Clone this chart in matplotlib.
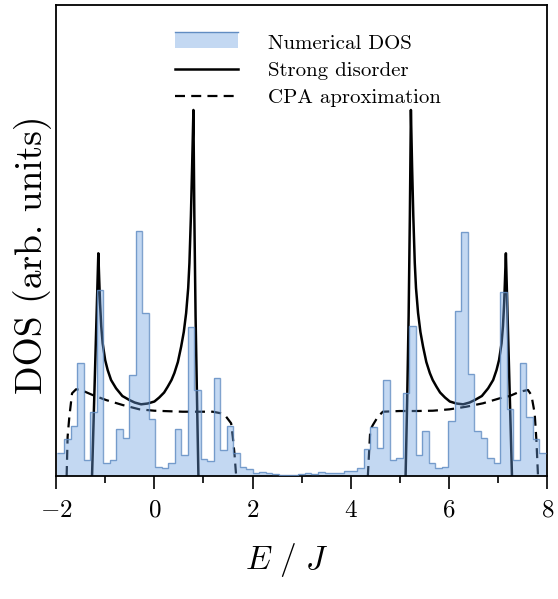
import numpy as np
import matplotlib
matplotlib.use("Agg")
import matplotlib.pyplot as plt
from matplotlib.patches import Rectangle
from matplotlib.lines import Line2D
from matplotlib.legend_handler import HandlerBase
from matplotlib.ticker import MultipleLocator

plt.rcParams['font.family'] = ['cmr10', 'DejaVu Serif']
plt.rcParams['mathtext.fontset'] = 'cm'
plt.rcParams['axes.formatter.use_mathtext'] = True

# ---- data ----
hist_edges_range = (-1.97, 7.97)
hist_counts = [0.227, 0.367, 0.500, 1.127, 0.160, 0.643, 1.860, 0.127, 0.160, 0.470,
               0.377, 1.010, 2.453, 1.627, 0.570, 0.087, 0.077, 0.127, 0.467, 0.210,
               1.487, 0.860, 0.167, 0.153, 0.977, 0.260, 0.500, 0.227, 0.093, 0.067,
               0.033, 0.040, 0.033, 0.020, 0.013, 0.013, 0.013, 0.020, 0.027, 0.020,
               0.040, 0.027, 0.033, 0.027, 0.050, 0.055, 0.077, 0.267, 0.487, 0.277,
               0.960, 0.160, 0.177, 0.827, 1.500, 0.210, 0.453, 0.127, 0.077, 0.093,
               0.553, 1.653, 2.443, 1.020, 0.453, 0.377, 0.177, 0.127, 1.843, 0.667,
               0.160, 1.133, 0.593, 0.370, 0.227]

sd_left_E = [-1.267, -1.139, -1.120, -1.104, -1.080, -1.051, -1.000, -0.949, -0.880, -0.778,
             -0.650, -0.507, -0.400, -0.269, -0.134, 0.002, 0.100, 0.200, 0.273, 0.350,
             0.409, 0.480, 0.546, 0.600, 0.648, 0.690, 0.715, 0.745, 0.770, 0.796,
             0.815, 0.840, 0.870, 0.898]
sd_left_h = [0.0, 2.227, 1.950, 1.727, 1.500, 1.327, 1.160, 1.060, 0.960, 0.877,
             0.800, 0.760, 0.735, 0.717, 0.725, 0.745, 0.785, 0.835, 0.893, 0.960,
             1.030, 1.140, 1.293, 1.440, 1.630, 1.880, 2.130, 2.600, 3.100, 3.660,
             2.600, 1.600, 0.750, 0.0]
sd_right_E = [5.114, 5.146, 5.176, 5.201, 5.222, 5.246, 5.271, 5.301, 5.326, 5.368,
              5.416, 5.470, 5.536, 5.607, 5.666, 5.743, 5.816, 5.916, 6.014, 6.150,
              6.285, 6.416, 6.523, 6.666, 6.794, 6.896, 6.965, 7.016, 7.067, 7.096,
              7.120, 7.136, 7.155, 7.279]
sd_right_h = [0.0, 0.750, 1.600, 2.600, 3.660, 3.100, 2.600, 2.130, 1.880, 1.630,
              1.440, 1.293, 1.140, 1.030, 0.960, 0.893, 0.835, 0.785, 0.745, 0.725,
              0.717, 0.735, 0.760, 0.800, 0.877, 0.960, 1.060, 1.160, 1.327, 1.500,
              1.727, 1.950, 2.227, 0.0]

cpa_left_E = [-1.784, -1.764, -1.729, -1.674, -1.593, -1.491, -1.255, -0.982, -0.644, -0.303,
              0.002, 0.578, 1.189, 1.360, 1.462, 1.564, 1.597, 1.631, 1.666]
cpa_left_h = [0.0, 0.393, 0.593, 0.827, 0.867, 0.860, 0.810, 0.760, 0.710, 0.667,
              0.653, 0.643, 0.643, 0.627, 0.593, 0.527, 0.393, 0.227, 0.0]
cpa_right_E = [4.346, 4.395, 4.448, 4.550, 4.652, 4.992, 5.332, 5.670, 6.010, 6.350,
               6.688, 7.029, 7.232, 7.436, 7.605, 7.674, 7.741, 7.776, 7.809]
cpa_right_h = [0.0, 0.460, 0.510, 0.593, 0.643, 0.650, 0.650, 0.653, 0.667, 0.693,
               0.727, 0.777, 0.800, 0.843, 0.860, 0.810, 0.627, 0.360, 0.0]

labels = ['Numerical DOS', 'Strong disorder', 'CPA aproximation']
xticks = [-2, 0, 2, 4, 6, 8]

# ---- figure ----
fig = plt.figure(figsize=(5.58, 5.99), dpi=100)
ax = fig.add_axes([0.1004, 0.2053, 0.8806, 0.7869])

DASH = (0, (4.5, 2.8))
ax.plot(sd_left_E, sd_left_h, color='black', lw=1.8, zorder=1)
ax.plot(sd_right_E, sd_right_h, color='black', lw=1.8, zorder=1)
ax.plot(cpa_left_E, cpa_left_h, color='black', lw=1.6, ls=DASH, zorder=1)
ax.plot(cpa_right_E, cpa_right_h, color='black', lw=1.6, ls=DASH, zorder=1)

nb = len(hist_counts)
edges = np.linspace(hist_edges_range[0], hist_edges_range[1], nb + 1)
fill_col = (0.42, 0.62, 0.88)
edge_col = (0.38, 0.55, 0.76)
ax.stairs(hist_counts, edges, fill=True, color=fill_col, alpha=0.4, lw=0, zorder=2)
ax.stairs(hist_counts, edges, fill=False, color=edge_col, alpha=0.8, lw=1.0,
          baseline=None, zorder=3)

ax.set_xlim(-2, 8)
ax.set_ylim(0, 4.713)
ax.set_xticks(xticks)
ax.xaxis.set_minor_locator(MultipleLocator(1))
ax.set_yticks([])
ax.tick_params(axis='x', which='major', direction='out', length=9, width=1.2,
               labelsize=18, pad=8)
ax.tick_params(axis='x', which='minor', direction='out', length=5, width=1.2)
for s in ax.spines.values():
    s.set_linewidth(1.3)

ax.set_xlabel(r'$E\ /\ J$', fontsize=24)
ax.xaxis.set_label_coords(0.469, -0.138)
ax.set_ylabel('DOS (arb. units)', fontsize=27)
ax.yaxis.set_label_coords(-0.008, 0.47)


class HistHandler(HandlerBase):
    def create_artists(self, legend, orig, xd, yd, w, h, fs, trans):
        r = Rectangle((xd, yd), w, h, facecolor=fill_col, alpha=0.4, edgecolor='none',
                      transform=trans)
        l = Line2D([xd, xd + w], [yd + h, yd + h], color=edge_col, lw=1.0,
                   transform=trans)
        return [r, l]


h_hist = Rectangle((0, 0), 1, 1)
h_sd = Line2D([], [], color='black', lw=1.8)
h_cpa = Line2D([], [], color='black', lw=1.6, ls=DASH)
ax.legend([h_hist, h_sd, h_cpa], labels, handler_map={Rectangle: HistHandler()},
          loc='upper center', bbox_to_anchor=(0.513, 0.978), frameon=False, fontsize=15,
          handlelength=3.0, handleheight=0.8, handletextpad=1.45, labelspacing=0.38)

fig.savefig('out.png', dpi=100)
